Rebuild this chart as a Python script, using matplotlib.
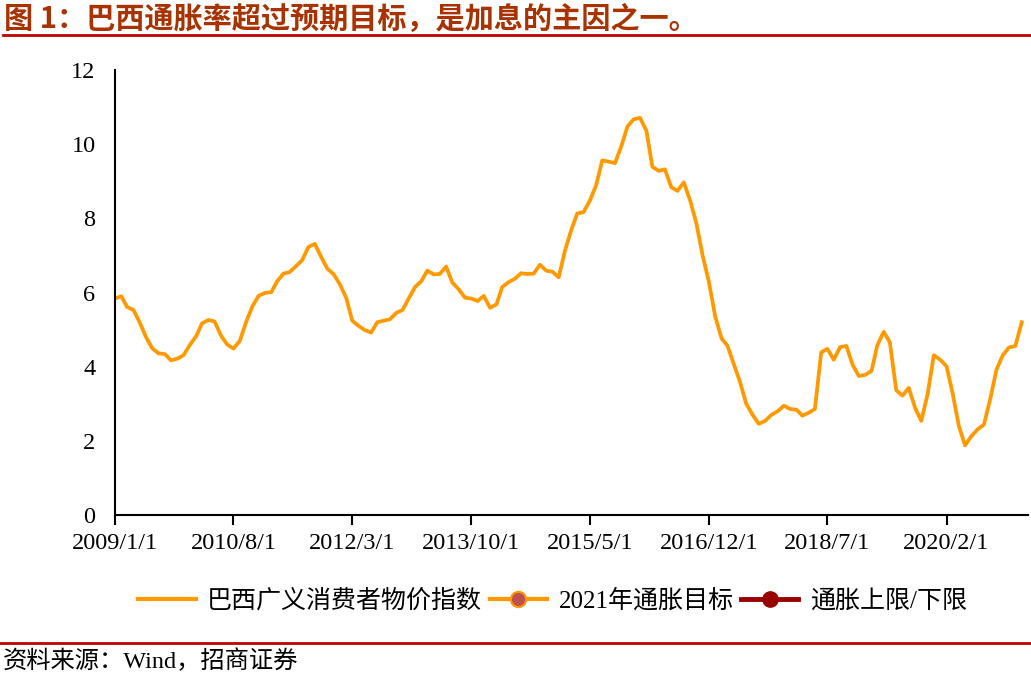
import matplotlib
matplotlib.use("Agg")
import matplotlib.pyplot as plt
from matplotlib.lines import Line2D
import pandas as pd

# Brazil IPCA, 12-month %, monthly from 2009/1 to 2021/2
ipca = [
    5.84, 5.90, 5.61, 5.53, 5.20, 4.80, 4.50, 4.36, 4.34, 4.17, 4.22, 4.31,
    4.59, 4.83, 5.17, 5.26, 5.22, 4.84, 4.60, 4.49, 4.70, 5.20, 5.63, 5.91,
    5.99, 6.01, 6.30, 6.51, 6.55, 6.71, 6.87, 7.23, 7.31, 6.97, 6.64, 6.50,
    6.22, 5.85, 5.24, 5.10, 4.99, 4.92, 5.20, 5.24, 5.28, 5.45, 5.53, 5.84,
    6.15, 6.31, 6.59, 6.49, 6.50, 6.70, 6.27, 6.09, 5.86, 5.84, 5.77, 5.91,
    5.59, 5.68, 6.15, 6.28, 6.37, 6.52, 6.50, 6.51, 6.75, 6.59, 6.56, 6.41,
    7.14, 7.70, 8.13, 8.17, 8.47, 8.89, 9.56, 9.53, 9.49, 9.93, 10.48, 10.67,
    10.71, 10.36, 9.39, 9.28, 9.32, 8.84, 8.74, 8.97, 8.48, 7.87, 6.99, 6.29,
    5.35, 4.76, 4.57, 4.08, 3.60, 3.00, 2.71, 2.46, 2.54, 2.70, 2.80, 2.95,
    2.86, 2.84, 2.68, 2.76, 2.86, 4.39, 4.48, 4.19, 4.53, 4.56, 4.05, 3.75,
    3.78, 3.89, 4.58, 4.94, 4.66, 3.37, 3.22, 3.43, 2.89, 2.54, 3.27, 4.31,
    4.19, 4.01, 3.30, 2.40, 1.88, 2.13, 2.31, 2.44, 3.14, 3.92, 4.31, 4.52,
    4.56, 5.20,
]
dates = pd.date_range("2009-01-01", periods=len(ipca), freq="MS")
tick_dates = pd.to_datetime(["2009-01-01", "2010-08-01", "2012-03-01", "2013-10-01",
                             "2015-05-01", "2016-12-01", "2018-07-01", "2020-02-01"])
tick_labels = ["2009/1/1", "2010/8/1", "2012/3/1", "2013/10/1",
               "2015/5/1", "2016/12/1", "2018/7/1", "2020/2/1"]
legend_labels = ["巴西广义消费者物价指数", "2021年通胀目标", "通胀上限/下限"]

plt.rcParams["font.family"] = ["Liberation Serif", "Noto Sans CJK SC"]

fig = plt.figure(figsize=(10.31, 6.76), dpi=100)
ax = fig.add_axes([0.1115, 0.238, 0.8855, 0.6585])

orange = "#FF9900"
ax.plot(dates, ipca, color=orange, lw=2.7, solid_joinstyle="round")

ax.set_ylim(0, 12)
ax.set_yticks(range(0, 13, 2))
ax.set_xlim(pd.Timestamp("2009-01-01"), pd.Timestamp("2021-03-03"))
ax.set_xticks(tick_dates)
ax.set_xticklabels(tick_labels)

for side in ["top", "right"]:
    ax.spines[side].set_visible(False)
for side in ["left", "bottom"]:
    ax.spines[side].set_linewidth(1.5)
ax.tick_params(axis="y", length=0, pad=14, labelsize=17.5)
ax.tick_params(axis="x", direction="out", length=7, width=1.5, pad=6, labelsize=17.5)

handles = [
    Line2D([], [], color=orange, lw=3),
    Line2D([], [], color=orange, lw=3, marker="o", markersize=11,
           markerfacecolor="#C0504D", markeredgecolor=orange, markeredgewidth=1.5),
    Line2D([], [], color="#990000", lw=3.5, marker="o", markersize=11,
           markerfacecolor="#990000", markeredgecolor="#990000"),
]
fig.legend(handles, legend_labels, loc="center", bbox_to_anchor=(0.536, 0.111),
           ncol=3, frameon=False, fontsize=18, handlelength=2.3,
           handletextpad=0.45, columnspacing=0.3)

fig.text(0.004, 0.972, "图 1：巴西通胀率超过预期目标，是加息的主因之一。",
         fontsize=21, fontweight="bold", color="#A83200", va="center",
         family=["Noto Sans CJK SC"])
fig.add_artist(Line2D([0.003, 1.0], [0.948, 0.948], color="#C00000", lw=2))
fig.add_artist(Line2D([0.0, 1.0], [0.049, 0.049], color="#C00000", lw=2))
fig.text(0.003, 0.021, "资料来源：Wind，招商证券", fontsize=17.5, color="black",
         va="center")

fig.savefig("out.png", dpi=100)
